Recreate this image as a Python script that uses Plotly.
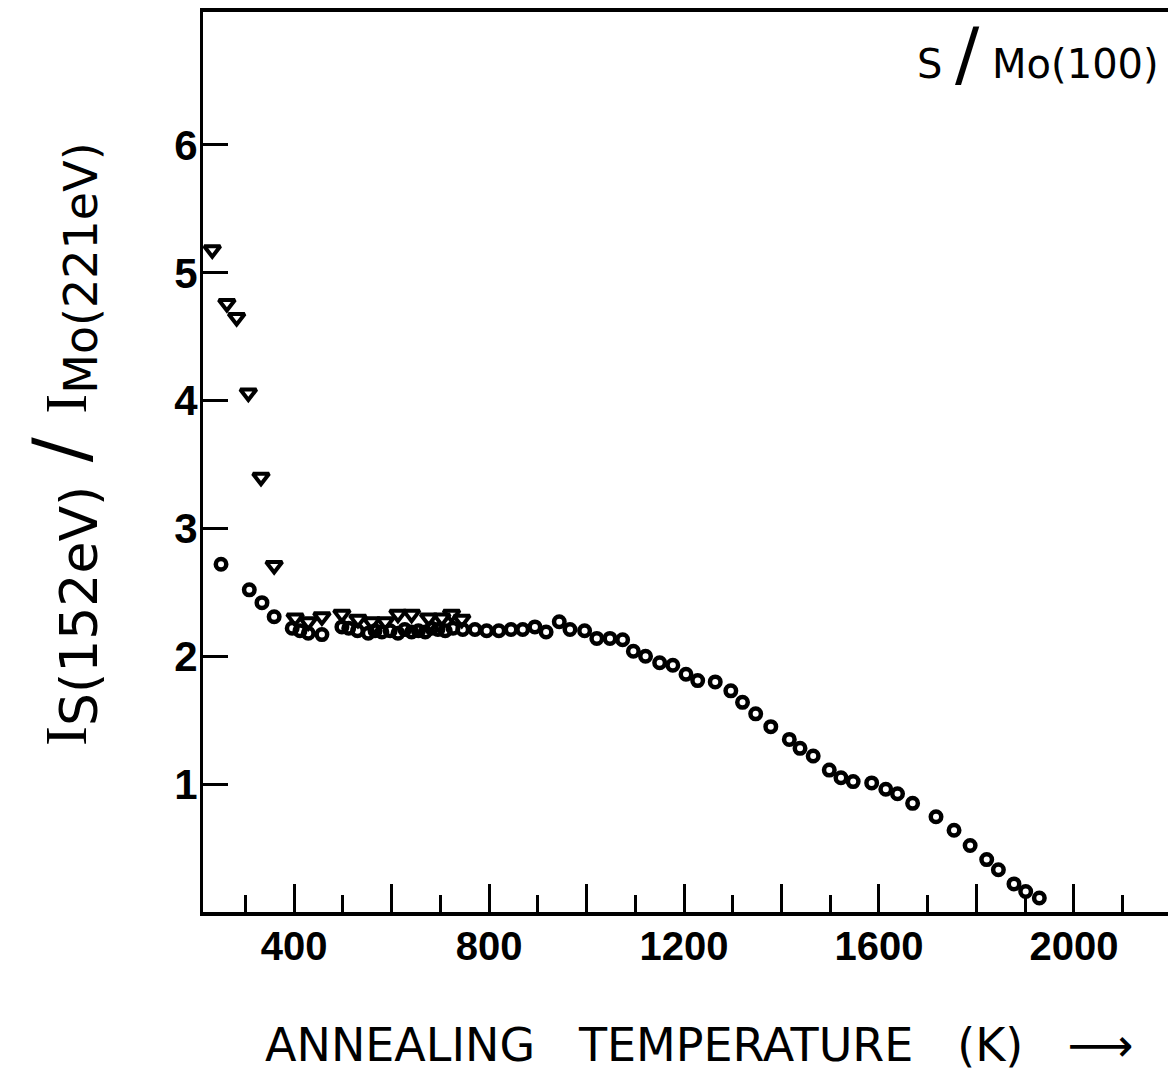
import plotly.graph_objects as go

# Circles series (annealing temperature K, intensity ratio)
circ_T = [250, 308, 334, 359, 396, 412, 429, 457, 498, 512, 530, 552, 566, 580, 597,
          613, 627, 641, 655, 669, 682, 695, 710, 726, 746, 771, 795, 820, 845, 869,
          894, 917, 944, 966, 996, 1021, 1048, 1074, 1096, 1121, 1150, 1177, 1204,
          1228, 1264, 1296, 1320, 1347, 1378, 1416, 1438, 1465, 1498, 1522, 1547,
          1585, 1614, 1638, 1669, 1717, 1754, 1787, 1821, 1845, 1877, 1901, 1929]
circ_R = [2.72, 2.52, 2.42, 2.31, 2.22, 2.20, 2.18, 2.17, 2.23, 2.22, 2.20, 2.18, 2.20,
          2.19, 2.20, 2.18, 2.21, 2.19, 2.20, 2.19, 2.22, 2.21, 2.20, 2.22, 2.21, 2.21,
          2.20, 2.20, 2.21, 2.21, 2.23, 2.19, 2.27, 2.21, 2.20, 2.14, 2.14, 2.13, 2.04,
          2.00, 1.95, 1.93, 1.86, 1.81, 1.80, 1.73, 1.64, 1.55, 1.45, 1.35, 1.28, 1.22,
          1.11, 1.05, 1.02, 1.01, 0.96, 0.925, 0.85, 0.745, 0.64, 0.52, 0.41, 0.33,
          0.22, 0.16, 0.11]

# Triangles series
tri_T = [232, 262, 282, 306, 332, 359, 402, 429, 457, 498, 531, 559, 587, 613, 641,
         676, 703, 723, 744]
tri_R = [5.18, 4.76, 4.65, 4.06, 3.40, 2.71, 2.30, 2.27, 2.31, 2.33, 2.29, 2.27, 2.27,
         2.33, 2.33, 2.30, 2.30, 2.33, 2.29]

x_major = [400, 600, 800, 1000, 1200, 1400, 1600, 1800, 2000]
x_labels = ["400", "", "800", "", "1200", "", "1600", "", "2000"]
y_major = [1, 2, 3, 4, 5, 6]
y_labels = ["1", "2", "3", "4", "5", "6"]

FONT = "DejaVu Sans"

fig = go.Figure()
fig.add_trace(go.Scatter(
    x=circ_T, y=circ_R, mode="markers",
    marker=dict(symbol="circle-open", size=10.5, color="black",
                line=dict(width=4.5, color="black")),
    showlegend=False))
fig.add_trace(go.Scatter(
    x=tri_T, y=tri_R, mode="markers",
    marker=dict(symbol="triangle-down-open", size=14, color="black",
                line=dict(width=4, color="black")),
    showlegend=False))

fig.update_layout(
    width=1168, height=1083,
    margin=dict(l=203, r=0, t=12, b=171),
    paper_bgcolor="white", plot_bgcolor="white",
    font=dict(family=FONT, color="black"),
    xaxis=dict(range=[213, 2193], showgrid=False, zeroline=False,
               showline=True, linecolor="black", linewidth=4, mirror=True,
               ticks="inside", ticklen=28, tickwidth=3, tickcolor="black",
               tickvals=x_major, ticktext=x_labels,
               tickfont=dict(size=40, family="Liberation Sans", weight="bold"),
               ticklabelstandoff=-4,
               minor=dict(dtick=100, tick0=0, ticks="inside", ticklen=17,
                          tickwidth=3, tickcolor="black", showgrid=False)),
    yaxis=dict(range=[0, 7.04], showgrid=False, zeroline=False,
               showline=True, linecolor="black", linewidth=3,
               ticks="inside", ticklen=25, tickwidth=3, tickcolor="black",
               tickvals=y_major, ticktext=y_labels,
               tickfont=dict(size=42, family="Liberation Sans", weight="bold"),
               ticklabelstandoff=-6),
)

# Y axis title (rotated)
fig.add_annotation(
    xref="paper", yref="paper", x=-0.145, y=0.52,
    text=("<span style='font-family:Liberation Serif;font-size:60px'>I</span>"
          "<sub><span style='font-size:52px'>S(152eV)</span></sub>"
          "<span style='font-size:74px'> / </span>"
          "<span style='font-family:Liberation Serif;font-size:60px'>I</span>"
          "<sub><span style='font-size:46px'>Mo(221eV)</span></sub>"),
    textangle=-90, showarrow=False, font=dict(size=50, family=FONT),
    xanchor="center", yanchor="middle")

# X axis title
fig.add_annotation(
    xref="paper", yref="paper", x=0.514, y=-0.148,
    text="ANNEALING   TEMPERATURE   (K)   ⟶",
    showarrow=False, font=dict(size=46, family=FONT),
    xanchor="center", yanchor="middle")

# Panel label
fig.add_annotation(
    xref="paper", yref="paper", x=0.993, y=0.955,
    text="S <span style='font-size:72px'>/</span> Mo(100)",
    showarrow=False, font=dict(size=40, family=FONT),
    xanchor="right", yanchor="middle")

fig.write_html("out.html")
